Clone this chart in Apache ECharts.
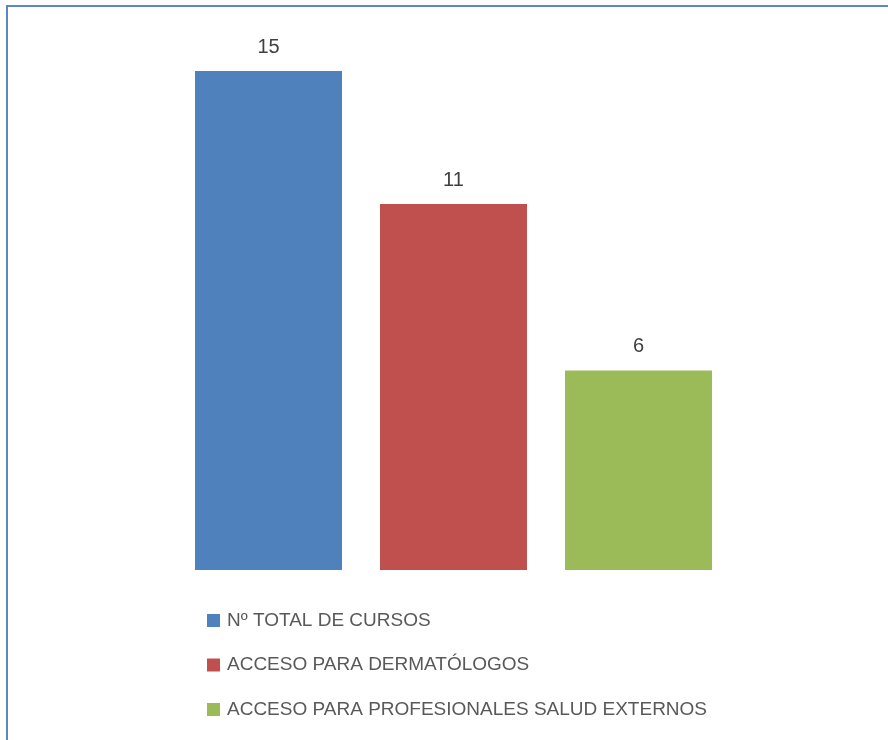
<!DOCTYPE html>
<html>
<head>
<meta charset="utf-8">
<script src="https://cdn.jsdelivr.net/npm/echarts@6/dist/echarts.min.js"></script>
<style>
  html, body { margin: 0; padding: 0; background: #fff; }
  #chart { width: 888px; height: 740px; }
</style>
</head>
<body>
<div id="chart"></div>
<script>
  // datos
  const categorias = ['Nº TOTAL DE CURSOS', 'ACCESO PARA DERMATÓLOGOS', 'ACCESO PARA PROFESIONALES SALUD EXTERNOS'];
  const valores = [15, 11, 6];
  const colores = ['#4F81BD', '#C0504D', '#9BBB59'];

  let myChart = echarts.init(document.getElementById('chart'));

  // una serie por categoria, apiladas para que no se desplacen
  let series = categorias.map((nombre, i) => ({
    name: nombre,
    type: 'bar',
    stack: 'total',
    barWidth: 147,
    data: valores.map((v, j) => (j === i ? v : '-')),
    itemStyle: { color: colores[i] },
    label: {
      show: true,
      position: 'top',
      distance: 14,
      color: '#404040',
      fontSize: 20,
      fontFamily: 'Liberation Sans'
    }
  }));

  myChart.setOption({
    animation: false,
    graphic: [{
      type: 'rect',
      shape: { x: 7, y: 6, width: 900, height: 800 },
      style: { fill: 'none', stroke: '#5B87C2', lineWidth: 2 }
    }],
    grid: { left: 176, width: 555, top: 71, bottom: 170 },
    xAxis: {
      type: 'category',
      data: categorias,
      show: false
    },
    yAxis: {
      type: 'value',
      min: 0,
      max: 15,
      show: false
    },
    legend: {
      orient: 'vertical',
      left: 207,
      top: 611,
      padding: 0,
      itemWidth: 13,
      itemHeight: 13,
      itemGap: 25.5,
      icon: 'rect',
      textStyle: {
        color: '#595959',
        fontSize: 19,
        fontFamily: 'Liberation Sans',
        padding: [0, 0, 0, 2]
      },
      data: categorias
    },
    series: series
  });
</script>
</body>
</html>
